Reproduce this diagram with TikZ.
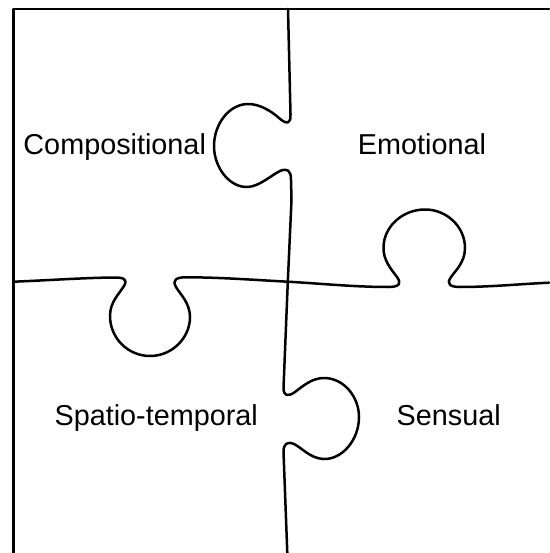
\documentclass[tikz,border=0pt]{standalone}
\usepackage{fontspec}
\setmainfont{Liberation Sans}
\begin{document}
\begin{tikzpicture}[x=1pt,y=-1pt,
  edge/.style={line width=2.5pt,line join=round,line cap=round},
  lbl/.style={inner sep=0pt,anchor=base,font=\fontsize{28.8}{34}\selectfont}]
\useasboundingbox (0,0) rectangle (549,553);
% outer border
\draw[edge] (13.3,553) -- (13.3,9) -- (549,9);
% vertical cut
\draw[edge] (288,9) -- (290.5,114)
  .. controls (291,124) and (287,125) .. (279,118)
  .. controls (270,110) and (258,103.5) .. (247,104)
  .. controls (228,105) and (214,125) .. (214,146)
  .. controls (214,168) and (230,188) .. (248,187)
  .. controls (260,186) and (270,176) .. (280,171)
  .. controls (287,168) and (291,170) .. (291,180)
  -- (291.5,200) -- (287.8,281.7) -- (283.5,388)
  .. controls (283.5,396) and (288,397) .. (295,392)
  .. controls (303,386) and (312,378) .. (324,378)
  .. controls (344,378) and (359,397) .. (359,417)
  .. controls (359,440) and (342,460) .. (323,459)
  .. controls (310,458) and (302,448) .. (294,444)
  .. controls (287,441) and (283.5,444) .. (283.5,452)
  -- (287.3,553);
% horizontal cut
\draw[edge] (13.3,281.7)
  .. controls (45,280.5) and (80,278) .. (112,277.5)
  .. controls (124,277.3) and (128,279) .. (124,286)
  .. controls (119,294) and (110,302) .. (110,316)
  .. controls (110,338) and (128,356) .. (150,356)
  .. controls (172,356) and (190,338) .. (190,317)
  .. controls (190,303) and (180,294) .. (176,287)
  .. controls (172,280) and (176,277.3) .. (186,277.3)
  .. controls (220,277.3) and (255,280) .. (287.8,281.7)
  .. controls (320,283.5) and (355,287) .. (388,287)
  .. controls (399,287) and (402,284) .. (397,277)
  .. controls (391,269) and (383,260) .. (383.5,247)
  .. controls (384,226) and (403,209.5) .. (425,209.5)
  .. controls (447,209.5) and (465,227) .. (465,248)
  .. controls (465,262) and (456,270) .. (451,277)
  .. controls (446,284) and (450,287) .. (460,287)
  .. controls (490,287) and (520,284) .. (549,282.7);
% labels
\node[lbl] (comp) at (114.7,155) {Compositional};
\node[lbl] (emo) at (422,154.5) {Emotional};
\node[lbl] (spat) at (156.2,425) {Spatio-temporal};
\node[lbl] (sens) at (448.7,425) {Sensual};
\end{tikzpicture}
\end{document}
